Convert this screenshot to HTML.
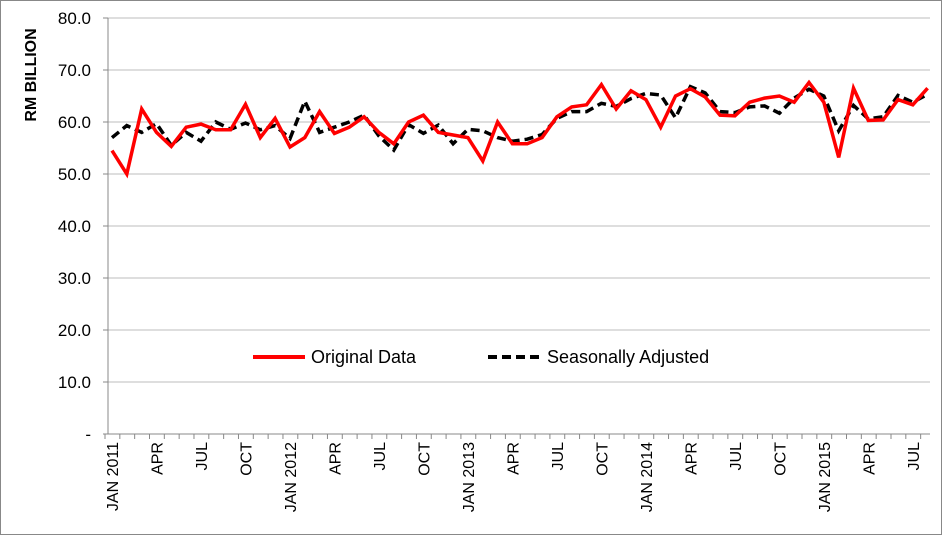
<!DOCTYPE html>
<html><head><style>
html,body{margin:0;padding:0;background:#fff;}
svg{display:block;font-family:"Liberation Sans",sans-serif;}
</style></head><body>
<svg id="s" width="942" height="535" xmlns="http://www.w3.org/2000/svg">
<rect x="0.5" y="0.5" width="941" height="534" fill="#fff" stroke="#888"/>
<g id="grid"></g>
<text transform="translate(36,75) rotate(-90)" text-anchor="middle" font-size="16" font-weight="bold">RM BILLION</text>
<line x1="253" y1="357" x2="305" y2="357" stroke="#f00" stroke-width="4"/>
<text x="311" y="363" font-size="18">Original Data</text>
<line x1="488" y1="357" x2="541" y2="357" stroke="#000" stroke-width="4" stroke-dasharray="9,5"/>
<text x="547" y="363" font-size="18">Seasonally Adjusted</text>
</svg>
<script>
var s=document.getElementById('s'),g=document.getElementById('grid'),NS='http://www.w3.org/2000/svg';
function el(t,a,p,txt){var e=document.createElementNS(NS,t);for(var k in a)e.setAttribute(k,a[k]);if(txt)e.textContent=txt;(p||s).appendChild(e);return e;}
function Y(v){return 434-v*5.2;}
function X(i){return 112+i*14.83;}
for(var v=0;v<=80;v+=10){var y=Y(v);
 if(v>0)el('line',{x1:108,x2:930,y1:y,y2:y,stroke:'#bdbdbd','stroke-width':1},g);
 el('line',{x1:103,x2:108,y1:y,y2:y,stroke:'#888'},g);
 el('text',{x:91,y:y+6,'text-anchor':'end','font-size':17},g,v==0?'-':v.toFixed(1));}
el('line',{x1:108,x2:108,y1:18,y2:434,stroke:'#888'},g);
el('line',{x1:108,x2:930,y1:434,y2:434,stroke:'#888'},g);
for(var i=0;i<=55;i++){var x=105+i*14.83;el('line',{x1:x,x2:x,y1:434,y2:439,stroke:'#888'},g);}
var labs={0:'JAN 2011',3:'APR',6:'JUL',9:'OCT',12:'JAN 2012',15:'APR',18:'JUL',21:'OCT',24:'JAN 2013',27:'APR',30:'JUL',33:'OCT',36:'JAN 2014',39:'APR',42:'JUL',45:'OCT',48:'JAN 2015',51:'APR',54:'JUL'};
for(var k in labs){var x=X(+k)+6;el('text',{transform:'translate('+x+',442) rotate(-90)','text-anchor':'end','font-size':16},g,labs[k]);}
var red=[54.5,50,62.5,58,55.3,59,59.6,58.5,58.5,63.4,57,60.7,55.2,57,62,57.8,59,61,58,55.8,60,61.3,58,57.5,57,52.5,60,55.8,55.8,57,61,62.9,63.3,67.2,62.5,66,64.3,59,65,66.4,64.8,61.3,61.2,63.8,64.6,65,63.8,67.6,63.8,53.2,66.5,60.3,60.4,64.3,63.3,66.5];
var blk=[57,59.3,58,59.7,55.5,58,56.3,60,58.6,59.8,58.5,59.3,56.8,64,58,59,60,61.3,57.3,54.6,59.5,57.8,59.4,55.8,58.6,58.3,57,56.3,56.7,57.6,60.7,62,62,63.6,63,64.5,65.5,65.2,60.8,66.8,65.6,62,61.8,62.9,63.1,61.7,64.6,66.3,65,58.3,63.2,60.6,61,65.1,63.8,65.3];
function pts(a){return a.map(function(v,i){return X(i).toFixed(1)+','+Y(v).toFixed(1)}).join(' ');}
el('polyline',{points:pts(blk),fill:'none',stroke:'#000','stroke-width':3.5,'stroke-dasharray':'9,5'});
el('polyline',{points:pts(red),fill:'none',stroke:'#f00','stroke-width':3.5,'stroke-linejoin':'miter'});
</script>
</body></html>
